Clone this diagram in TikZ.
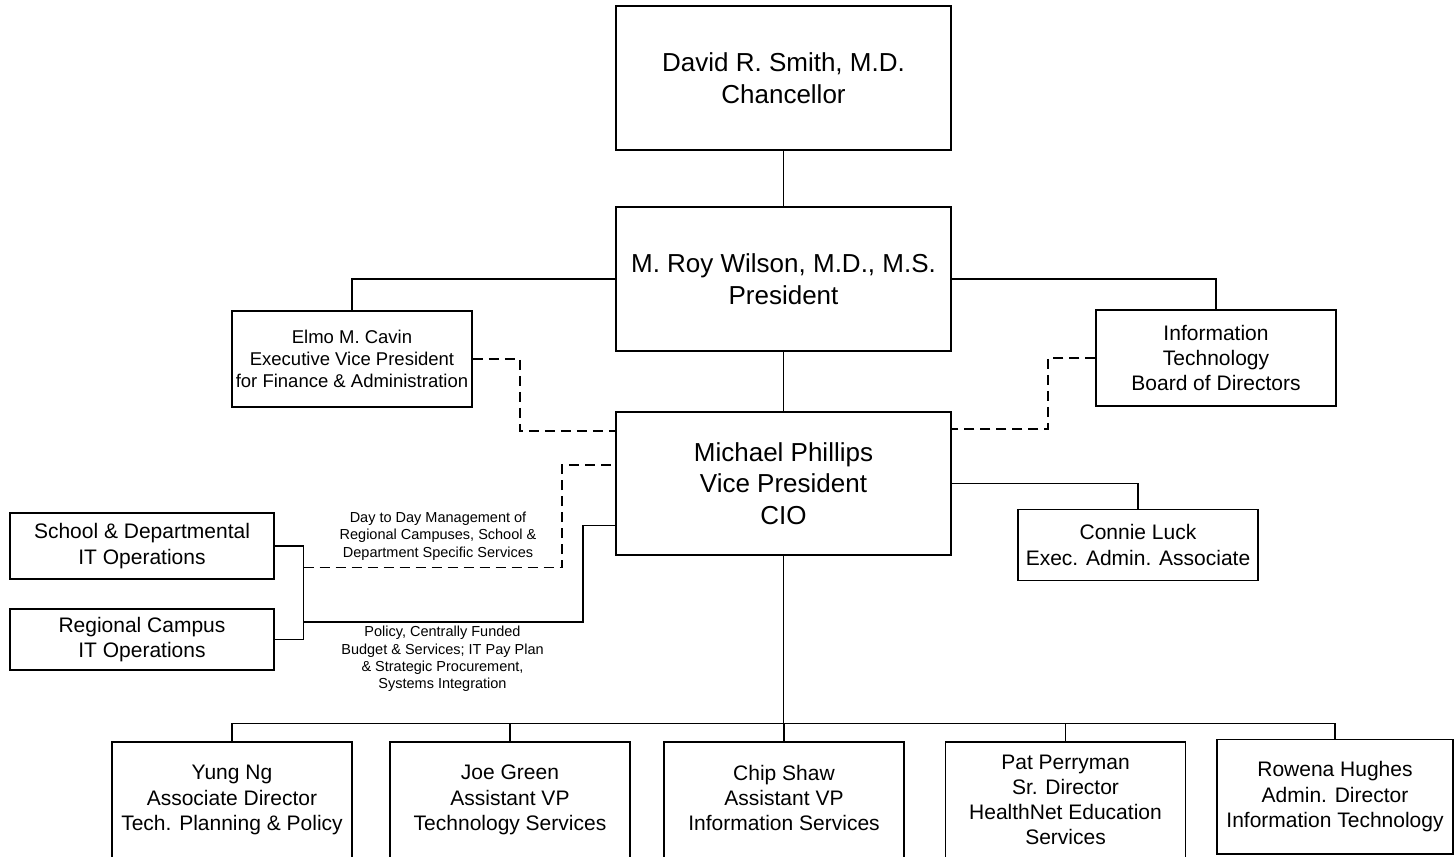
\documentclass[tikz,border=0pt]{standalone}
\usepackage{fontspec}
\setmainfont{Liberation Sans}
\begin{document}
\begin{tikzpicture}[x=1pt,y=-1pt,
  box/.style={draw, line width=1.5pt, inner sep=0pt, align=center, fill=white},
  big/.style={font=\fontsize{26}{31.5}\selectfont},
  mid/.style={font=\fontsize{21}{25.2}\selectfont},
  elmof/.style={font=\fontsize{18.5}{22}\selectfont},
  lbl/.style={font=\fontsize{14.5}{17.3}\selectfont, align=center, inner sep=0pt},
  conn/.style={line width=1.5pt},
  dsh/.style={line width=1.5pt, dash pattern=on 10pt off 6pt}]
\clip (0,0) rectangle (1455,856);
\fill[white] (0,0) rectangle (1455,856);

% top chain
\node[box,big,minimum width=335pt,minimum height=144pt] (chan) at (783.5,78) {David R. Smith, M.D.\\Chancellor};
\node[box,big,minimum width=335pt,minimum height=144pt] (pres) at (783.5,279) {M. Roy Wilson, M.D., M.S.\\President};
\node[box,big,minimum width=335pt,minimum height=143pt] (cio) at (783.5,483.5) {Michael Phillips\\Vice President\\CIO};

% side boxes
\node[box,elmof,minimum width=240pt,minimum height=96pt] (elmo) at (352,359) {Elmo M. Cavin\\Executive Vice President\\for Finance \& Administration};
\node[box,mid,minimum width=240pt,minimum height=96pt] (itb) at (1216,358) {Information\\Technology\\Board of Directors};
\node[box,mid,minimum width=240pt,minimum height=71pt] (connie) at (1138,545) {Connie Luck\\Exec. Admin. Associate};
\node[box,mid,minimum width=264pt,minimum height=66pt] (school) at (142,546) {School \& Departmental\\IT Operations};
\node[box,mid,minimum width=264pt,minimum height=61pt] (regional) at (142,639.5) {Regional Campus\\IT Operations};

% bottom boxes
\node[box,mid,minimum width=240pt,minimum height=116pt] (yung) at (232,800) {Yung Ng\\Associate Director\\Tech. Planning \& Policy};
\node[box,mid,minimum width=240pt,minimum height=116pt] (joe) at (510,800) {Joe Green\\Assistant VP\\Technology Services};
\node[box,mid,minimum width=240pt,minimum height=116pt] (chip) at (784,800) {Chip Shaw\\Assistant VP\\Information Services\vphantom{y}};
\node[box,mid,minimum width=240pt,minimum height=116pt] (pat) at (1065.5,800) {Pat Perryman\\Sr. Director\\HealthNet Education\\Services};
\node[box,mid,minimum width=236pt,minimum height=114.7pt] (rowena) at (1335,796.7) {Rowena Hughes\\Admin. Director\\Information Technology};

% labels
\node[lbl] (lab1) at (438,536) {Day to Day Management of\\Regional Campuses, School \&\\Department Specific Services};
\node[lbl] (lab2) at (442.5,659) {Policy, Centrally Funded\\Budget \& Services; IT Pay Plan\\\& Strategic Procurement,\\Systems Integration};

% solid connectors
\draw[conn] (chan.south) -- (pres.north);
\draw[conn] (pres.south) -- (cio.north);
\draw[conn] (pres.west) -| (elmo.north);
\draw[conn] (pres.east) -| (itb.north);
\draw[conn] (cio.east) -| (connie.north);

\coordinate (bus) at (783.5,723.5);
\draw[conn] (cio.south) -- (bus);
\foreach \n in {yung,joe,chip,pat,rowena} \draw[conn] (bus) -| (\n.north);

% dashed relations
\coordinate (e1) at (520,431);
\draw[dsh] (elmo.east) -| (e1) -- (e1 -| cio.west);
\coordinate (i1) at (1048,429);
\draw[dsh] (itb.west) -| (i1) -- (i1 -| cio.east);

% bracket for school / regional
\coordinate (bt) at (303.5,546);
\coordinate (bb) at (303.5,639.5);
\draw[conn] (school.east) -- (bt) -- (bb) -- (regional.east);

\coordinate (d1) at (303.5,567.5);
\coordinate (d2) at (562,465);
\draw[dsh] (d1) -| (d2) -- (d2 -| cio.west);

\coordinate (s1) at (303.5,622);
\coordinate (s2) at (583,525.5);
\draw[conn] (s1) -| (s2) -- (s2 -| cio.west);
\end{tikzpicture}
\end{document}
